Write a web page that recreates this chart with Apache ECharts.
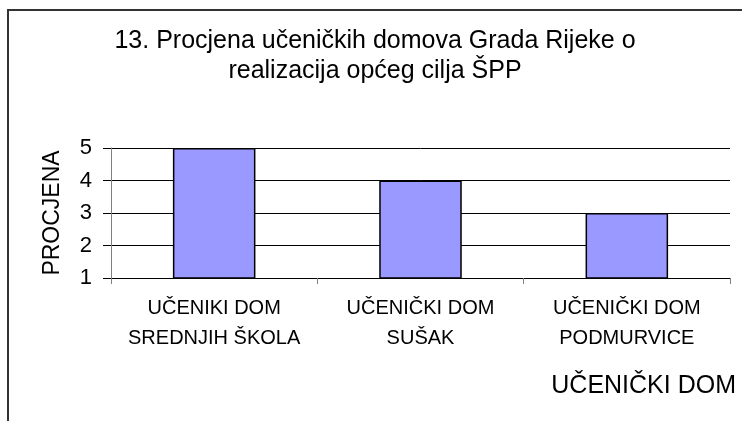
<!DOCTYPE html>
<html>
<head>
<meta charset="utf-8">
<script src="https://cdn.jsdelivr.net/npm/echarts@6/dist/echarts.min.js"></script>
<style>
  html, body { margin: 0; padding: 0; background: #fff; }
  #chart { width: 742px; height: 421px; }
</style>
</head>
<body>
<div id="chart"></div>
<script>
const titleText = '13. Procjena učeničkih domova Grada Rijeke o\nrealizacija općeg cilja ŠPP'
const categories = ['UČENIKI DOM\nSREDNJIH ŠKOLA', 'UČENIČKI DOM\nSUŠAK', 'UČENIČKI DOM\nPODMURVICE']
const values = [5, 4, 3]
const yName = 'PROCJENA'
const xName = 'UČENIČKI DOM'

const font = 'Liberation Sans, Arial, sans-serif'
const chart = echarts.init(document.getElementById('chart'))

chart.setOption({
  animation: false,
  title: {
    text: titleText,
    left: 370,
    top: 21,
    textAlign: 'center',
    textStyle: {
      fontFamily: font,
      fontSize: 25,
      fontWeight: 'normal',
      color: '#000',
      lineHeight: 30
    }
  },
  graphic: [
    {
      type: 'rect',
      shape: { x: 8, y: 10, width: 800, height: 500 },
      style: { fill: 'none', stroke: '#333', lineWidth: 2 },
      silent: true
    }
  ],
  grid: { left: 111, right: 12, top: 148, bottom: 143 },
  xAxis: {
    type: 'category',
    data: categories,
    name: xName,
    nameLocation: 'end',
    nameGap: 6,
    nameTextStyle: {
      fontFamily: font,
      fontSize: 25,
      color: '#000',
      align: 'right',
      verticalAlign: 'top',
      padding: [96, 0, 0, 0]
    },
    axisLine: { lineStyle: { color: '#000', width: 1 } },
    axisTick: { show: true, length: 6, lineStyle: { color: '#808080' } },
    axisLabel: {
      fontFamily: font,
      fontSize: 20,
      color: '#000',
      lineHeight: 30,
      margin: 15,
      interval: 0
    }
  },
  yAxis: {
    type: 'value',
    min: 1,
    max: 5,
    interval: 1,
    name: yName,
    nameLocation: 'middle',
    nameGap: 47,
    nameTextStyle: { fontFamily: font, fontSize: 23, color: '#000' },
    axisLine: { show: true, lineStyle: { color: '#808080', width: 1 } },
    axisTick: { show: true, length: 8, lineStyle: { color: '#000' } },
    axisLabel: { fontFamily: font, fontSize: 22, color: '#000', margin: 19 },
    splitLine: { show: true, lineStyle: { color: '#000', width: 1 } }
  },
  series: [
    {
      type: 'bar',
      data: values,
      barWidth: '40%',
      itemStyle: { color: '#9999FF', borderColor: '#000', borderWidth: 1.5 }
    }
  ]
})
</script>
</body>
</html>
